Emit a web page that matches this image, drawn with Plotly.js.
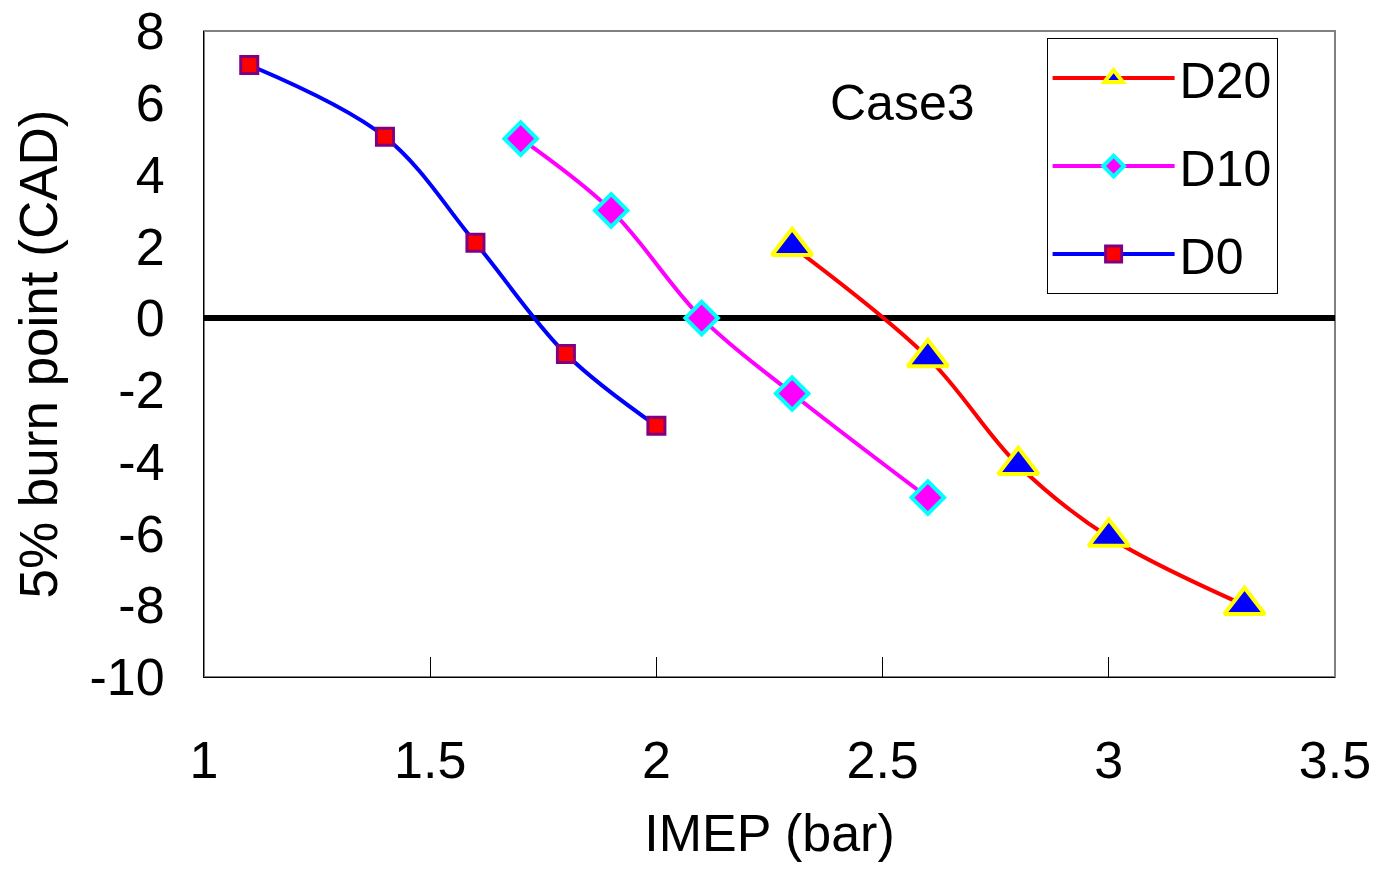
<!DOCTYPE html>
<html>
<head>
<meta charset="utf-8">
<script src="https://cdn.plot.ly/plotly-3.0.1.min.js"></script>
<style>
  html, body { margin: 0; padding: 0; background: #ffffff; }
  #chart { width: 1384px; height: 882px; }
</style>
</head>
<body>
<div id="chart"></div>
<script>
// ---- Data ----
const d20_imep = [2.3, 2.6, 2.8, 3.0, 3.3];
const d20_burn = [2.0, -1.1, -4.1, -6.1, -8.0];

const d10_imep = [1.7, 1.9, 2.1, 2.3, 2.6];
const d10_burn = [5.0, 3.0, 0.0, -2.1, -5.0];

const d0_imep = [1.1, 1.4, 1.6, 1.8, 2.0];
const d0_burn = [7.05, 5.05, 2.1, -1.0, -3.0];

const xTickVals = [1, 1.5, 2, 2.5, 3, 3.5];
const xTickText = ["1", "1.5", "2", "2.5", "3", "3.5"];
const yTickVals = [-10, -8, -6, -4, -2, 0, 2, 4, 6, 8];
const yTickText = ["-10", "-8", "-6", "-4", "-2", "0", "2", "4", "6", "8"];

const seriesNames = ["D20", "D10", "D0"];
const annotationText = "Case3";
const xTitle = "IMEP (bar)";
const yTitle = "5% burn point (CAD)";

const FONT = '"Liberation Sans", Arial, sans-serif';

const traces = [
  {
    x: d20_imep, y: d20_burn, name: seriesNames[0], legendgroup: "g1",
    type: "scatter", mode: "lines+markers",
    line: { color: "#FF0000", width: 4, shape: "spline", smoothing: 1 },
    marker: { symbol: "triangle-up", size: 35, color: "#0000FF", line: { color: "#FFFF00", width: 4 } }
  },
  {
    x: d10_imep, y: d10_burn, name: seriesNames[1], legendgroup: "g2",
    type: "scatter", mode: "lines+markers",
    line: { color: "#FF00FF", width: 4, shape: "spline", smoothing: 1 },
    marker: { symbol: "diamond", size: 25, color: "#FF00FF", line: { color: "#00FFFF", width: 4 } }
  },
  {
    x: d0_imep, y: d0_burn, name: seriesNames[2], legendgroup: "g3",
    type: "scatter", mode: "lines+markers",
    line: { color: "#0000FF", width: 4, shape: "spline", smoothing: 1 },
    marker: { symbol: "square", size: 17, color: "#FF0000", line: { color: "#800080", width: 3 } }
  }
];

const layout = {
  width: 1384, height: 882,
  margin: { l: 204, r: 49, t: 31, b: 205, pad: 0 },
  paper_bgcolor: "#ffffff", plot_bgcolor: "#ffffff",
  font: { family: FONT, color: "#000000", size: 50 },
  showlegend: true,
  legend: {
    x: 0.745, y: 0.989, xanchor: "left", yanchor: "top",
    bgcolor: "#ffffff", bordercolor: "#000000", borderwidth: 1,
    font: { family: FONT, size: 50, color: "#000000" },
    traceorder: "grouped", tracegroupgap: 20, itemwidth: 122
  },
  xaxis: {
    range: [1, 3.5], tickvals: xTickVals, ticktext: xTickText,
    ticks: "inside", ticklen: 20, tickwidth: 1, tickcolor: "#000000",
    showline: true, linecolor: "#000000", linewidth: 1,
    showgrid: false, zeroline: false,
    tickfont: { family: FONT, size: 52, color: "#000000" },
    ticklabelstandoff: 38, ticklabeloverflow: "allow",
    title: { text: xTitle, font: { family: FONT, size: 52, color: "#000000" }, standoff: 26 }
  },
  yaxis: {
    range: [-10, 8], tickvals: yTickVals, ticktext: yTickText,
    ticks: "",
    showline: true, linecolor: "#000000", linewidth: 1,
    showgrid: false,
    zeroline: true, zerolinecolor: "#000000", zerolinewidth: 6,
    tickfont: { family: FONT, size: 52, color: "#000000" },
    ticklabelstandoff: 28, ticklabeloverflow: "allow",
    title: { text: yTitle, font: { family: FONT, size: 53, color: "#000000" }, standoff: 14 }
  },
  shapes: [
    { type: "rect", xref: "paper", yref: "paper", x0: 0, x1: 1, y0: 0, y1: 1,
      line: { color: "#808080", width: 2 }, fillcolor: "rgba(0,0,0,0)", layer: "below" }
  ],
  annotations: [
    { text: annotationText, xref: "x", yref: "y", x: 2.545, y: 6.0,
      xanchor: "center", yanchor: "middle", showarrow: false,
      font: { family: FONT, size: 50, color: "#000000" } }
  ]
};

Plotly.newPlot("chart", traces, layout, { displayModeBar: false, staticPlot: true });
</script>
</body>
</html>
